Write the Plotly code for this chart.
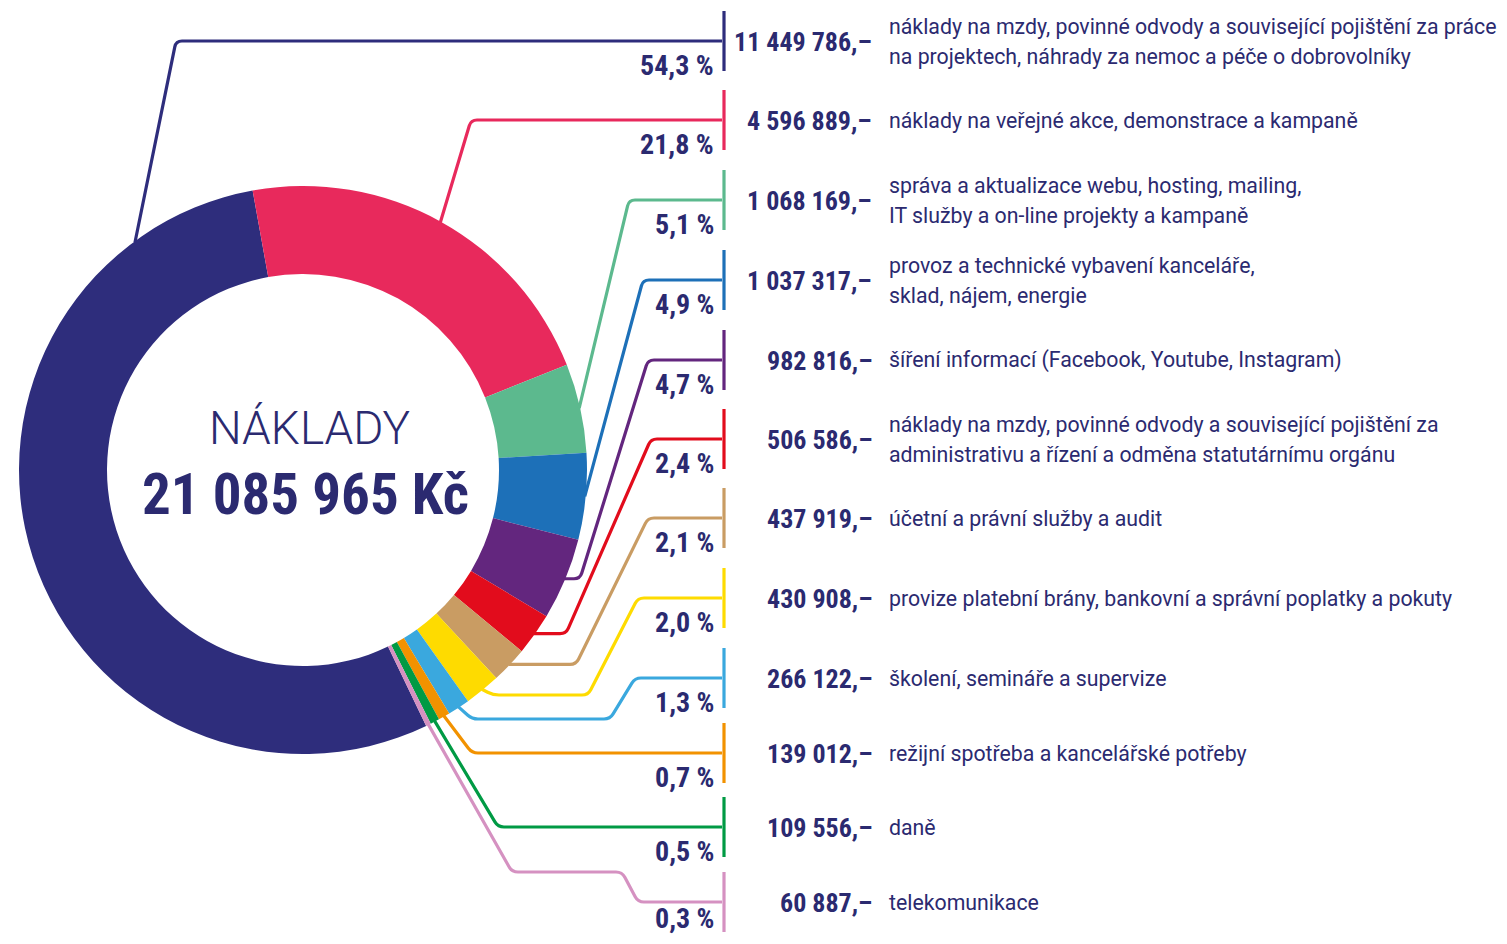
import math
import plotly.graph_objects as go

# ---------------- data ----------------
categories = [
    "náklady na mzdy, povinné odvody a související pojištění za práce<br>na projektech, náhrady za nemoc a péče o dobrovolníky",
    "náklady na veřejné akce, demonstrace a kampaně",
    "správa a aktualizace webu, hosting, mailing,<br>IT služby a on-line projekty a kampaně",
    "provoz a technické vybavení kanceláře,<br>sklad, nájem, energie",
    "šíření informací (Facebook, Youtube, Instagram)",
    "náklady na mzdy, povinné odvody a související pojištění za<br>administrativu a řízení a odměna statutárnímu orgánu",
    "účetní a právní služby a audit",
    "provize platební brány, bankovní a správní poplatky a pokuty",
    "školení, semináře a supervize",
    "režijní spotřeba a kancelářské potřeby",
    "daně",
    "telekomunikace",
]
values = [11449786, 4596889, 1068169, 1037317, 982816, 506586,
          437919, 430908, 266122, 139012, 109556, 60887]
colors = ["#2e2d7c", "#e8295c", "#5cb98e", "#1d70b8", "#63267e", "#e20c1c",
          "#c99c63", "#fedb00", "#3aa8de", "#f29200", "#009a44", "#d591c1"]
total_label = 21085965
center_title = "NÁKLADY"
currency = "Kč"

# ---------------- layout geometry (page pixels) ----------------
W, H = 1507, 944
PAGE_MARGIN = 8          # default body margin of the html page
FW, FH = W - 2 * PAGE_MARGIN, H - 2 * PAGE_MARGIN
CX, CY, R_OUT, R_IN = 303, 470, 284, 196
ROTATION = 154.3
TEXT = "#2b2a70"
FONT = "Roboto"
NUM_FONT = "Liberation Sans Narrow, Roboto Condensed, Roboto"
row_y = [41, 120, 200, 280, 360, 439, 518, 598, 678, 753, 827, 902]
anchor_frac = [0.866] + [0.5] * 11
waypoints = [
    [(176, "row")],
    [(471, "row")],
    [(629, "row")],
    [(643, "row")],
    [(580, None), (648, "row")],
    [(566, None), (651, "row")],
    [(576, None), (648, "row")],
    [(493, 695), (588, 695), (638, "row")],
    [(472, 719), (610, 719), (635, "row")],
    [(472, "row")],
    [(498, "row")],
    [(512, 872), (622, 872), (638, "row")],
]
LINE_END_X = 722
BAR_X = 724
BAR_HALF = 30
DESC_LINE_GAP = 30


def fmt_int(v):
    return f"{v:,}".replace(",", " ")


def rounded_path(pts, r=6):
    d = f"M {pts[0][0]:.2f},{pts[0][1]:.2f}"
    for i in range(1, len(pts) - 1):
        p0, p1, p2 = pts[i - 1], pts[i], pts[i + 1]
        l1 = math.hypot(p0[0] - p1[0], p0[1] - p1[1])
        l2 = math.hypot(p2[0] - p1[0], p2[1] - p1[1])
        if l1 == 0 or l2 == 0:
            continue
        rr = min(r, l1 / 2, l2 / 2)
        a = (p1[0] + (p0[0] - p1[0]) / l1 * rr, p1[1] + (p0[1] - p1[1]) / l1 * rr)
        b = (p1[0] + (p2[0] - p1[0]) / l2 * rr, p1[1] + (p2[1] - p1[1]) / l2 * rr)
        d += f" L {a[0]:.2f},{a[1]:.2f} Q {p1[0]:.2f},{p1[1]:.2f} {b[0]:.2f},{b[1]:.2f}"
    d += f" L {pts[-1][0]:.2f},{pts[-1][1]:.2f}"
    return d


total = sum(values)

fig = go.Figure()
fcx, fcy = CX - PAGE_MARGIN, CY - PAGE_MARGIN
fig.add_trace(go.Pie(
    values=values,
    labels=[c.replace("<br>", " ") for c in categories],
    marker=dict(colors=colors, line=dict(width=0)),
    hole=R_IN / R_OUT,
    sort=False,
    direction="clockwise",
    rotation=ROTATION,
    textinfo="none",
    hoverinfo="label+value+percent",
    showlegend=False,
    domain=dict(x=[(fcx - R_OUT) / FW, (fcx + R_OUT) / FW],
                y=[(FH - fcy - R_OUT) / FH, (FH - fcy + R_OUT) / FH]),
))

# invisible axes in page-pixel units for the decorations
fig.add_trace(go.Scatter(x=[PAGE_MARGIN, W - PAGE_MARGIN], y=[PAGE_MARGIN, H - PAGE_MARGIN],
                         mode="markers", marker=dict(opacity=0), hoverinfo="skip",
                         showlegend=False))

shapes = []
annotations = []
cum = 0.0
for i, v in enumerate(values):
    start = ROTATION + cum / total * 360
    span = v / total * 360
    cum += v
    ang = math.radians(start + span * anchor_frac[i])
    ax = CX + (R_OUT - 1) * math.sin(ang)
    ay = CY - (R_OUT - 1) * math.cos(ang)
    ry = row_y[i]
    pts = [(ax, ay)]
    for (wx, wy) in waypoints[i]:
        if wy == "row":
            wy = ry
        elif wy is None:
            wy = ay
        pts.append((wx, wy))
    pts.append((LINE_END_X, ry))
    shapes.append(dict(type="path", path=rounded_path(pts), xref="x", yref="y",
                       line=dict(color=colors[i], width=3.2), layer="above"))
    shapes.append(dict(type="line", x0=BAR_X, x1=BAR_X, y0=ry - BAR_HALF, y1=ry + BAR_HALF,
                       xref="x", yref="y", line=dict(color=colors[i], width=3.2), layer="above"))
    pct = f"{v / total * 100:.1f}".replace(".", ",") + " %"
    annotations.append(dict(x=716, y=min(ry + 24, H - PAGE_MARGIN - 18), xref="x", yref="y",
                            text=pct, showarrow=False, xanchor="right", yanchor="middle",
                            font=dict(family=NUM_FONT, size=28, color=TEXT, weight=700)))
    annotations.append(dict(x=874, y=ry + 1, xref="x", yref="y", text=fmt_int(v) + ",–",
                            showarrow=False, xanchor="right", yanchor="middle",
                            font=dict(family=NUM_FONT, size=26, color=TEXT, weight=700)))
    lines = categories[i].split("<br>")
    n = len(lines)
    for k, line in enumerate(lines):
        ly = ry + (k - (n - 1) / 2) * DESC_LINE_GAP
        annotations.append(dict(x=887, y=ly, xref="x", yref="y", text=line,
                                showarrow=False, xanchor="left", yanchor="middle", align="left",
                                font=dict(family=FONT, size=21.3, color=TEXT, weight=400)))

annotations.append(dict(x=CX + 6, y=428, xref="x", yref="y", text=center_title, showarrow=False,
                        xanchor="center", yanchor="middle",
                        font=dict(family=FONT, size=46, color=TEXT, weight=300)))
annotations.append(dict(x=CX + 2, y=494, xref="x", yref="y",
                        text=fmt_int(total_label) + " " + currency, showarrow=False,
                        xanchor="center", yanchor="middle",
                        font=dict(family=NUM_FONT, size=57, color=TEXT, weight=700)))

fig.update_layout(
    width=FW, height=FH,
    margin=dict(l=0, r=0, t=0, b=0),
    paper_bgcolor="white", plot_bgcolor="white",
    xaxis=dict(range=[PAGE_MARGIN, W - PAGE_MARGIN], visible=False, fixedrange=True,
               domain=[0, 1]),
    yaxis=dict(range=[H - PAGE_MARGIN, PAGE_MARGIN], visible=False, fixedrange=True,
               domain=[0, 1]),
    shapes=shapes,
    annotations=annotations,
)

fig.write_html("out.html", config={"displayModeBar": False})
